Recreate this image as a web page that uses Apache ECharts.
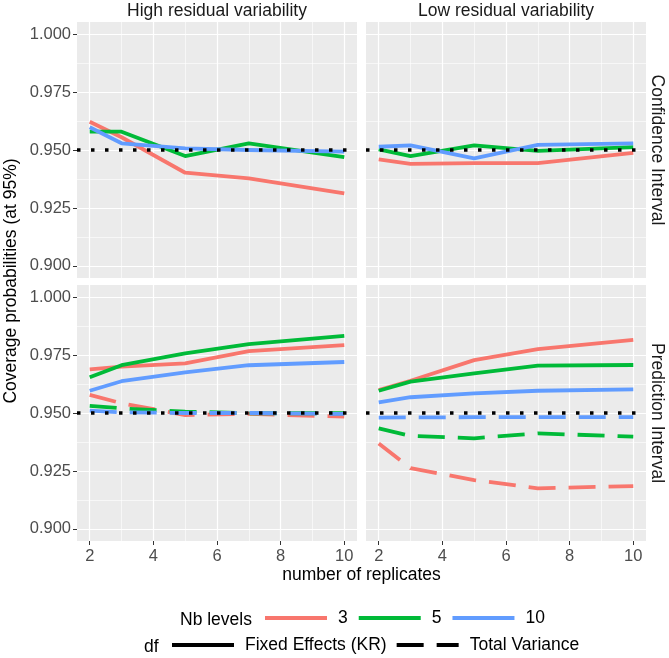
<!DOCTYPE html>
<html lang="en">
<head>
  <meta charset="UTF-8">
  <title>Coverage probabilities</title>
  <script src="https://cdn.jsdelivr.net/npm/echarts@6/dist/echarts.min.js"></script>
  <style>
    body { margin: 0; background: #fff; }
    #main { width: 669px; height: 658px; }
  </style>
</head>
<body>
  <div id="main"></div>
  <script>
    // number of replicates (x positions of the points)
    var replicates = [2, 3, 5, 7, 10]
    var xTicks = [2, 4, 6, 8, 10]
    var xMinor = [3, 5, 7, 9]
    var yTicks = [0.900, 0.925, 0.950, 0.975, 1.000]
    var yMinor = [0.9125, 0.9375, 0.9625, 0.9875]
    var nominal = 0.95

    var levels = ['3', '5', '10']
    var dfNames = ['Fixed Effects (KR)', 'Total Variance']
    var colors = ['#F8766D', '#00BA38', '#619CFF']

    // Confidence interval, high residual variability
    var ciHigh3 = [0.9622, 0.9555, 0.9402, 0.9378, 0.9313]
    var ciHigh5 = [0.9579, 0.9579, 0.9474, 0.9529, 0.9469]
    var ciHigh10 = [0.9598, 0.9529, 0.9507, 0.9500, 0.9493]
    // Confidence interval, low residual variability
    var ciLow3 = [0.9460, 0.9440, 0.9443, 0.9443, 0.9488]
    var ciLow5 = [0.9503, 0.9474, 0.9520, 0.9496, 0.9512]
    var ciLow10 = [0.9514, 0.9520, 0.9464, 0.9522, 0.9529]
    // Prediction interval, high residual variability
    var piHighKR3 = [0.9688, 0.9700, 0.9714, 0.9767, 0.9793]
    var piHighKR5 = [0.9654, 0.9706, 0.9757, 0.9797, 0.9833]
    var piHighKR10 = [0.9596, 0.9637, 0.9675, 0.9706, 0.9720]
    var piHighTV3 = [0.9578, 0.9542, 0.9491, 0.9496, 0.9484]
    var piHighTV5 = [0.9531, 0.9520, 0.9506, 0.9499, 0.9499]
    var piHighTV10 = [0.9510, 0.9503, 0.9500, 0.9500, 0.9496]
    // Prediction interval, low residual variability
    var piLowKR3 = [0.9599, 0.9639, 0.9728, 0.9775, 0.9815]
    var piLowKR5 = [0.9596, 0.9635, 0.9671, 0.9704, 0.9707]
    var piLowKR10 = [0.9546, 0.9568, 0.9585, 0.9596, 0.9602]
    var piLowTV3 = [0.9369, 0.9262, 0.9211, 0.9175, 0.9185]
    var piLowTV5 = [0.9434, 0.9401, 0.9391, 0.9412, 0.9398]
    var piLowTV10 = [0.9480, 0.9481, 0.9482, 0.9482, 0.9482]

    var colTitles = ['High residual variability', 'Low residual variability']
    var rowTitles = ['Confidence Interval', 'Prediction Interval']

    var FONT = 'Liberation Sans, Arial, sans-serif'
    var panels = [
      { left: 77, top: 22, solid: [ciHigh3, ciHigh5, ciHigh10], dashed: null },
      { left: 366, top: 22, solid: [ciLow3, ciLow5, ciLow10], dashed: null },
      { left: 77, top: 285, solid: [piHighKR3, piHighKR5, piHighKR10], dashed: [piHighTV3, piHighTV5, piHighTV10] },
      { left: 366, top: 285, solid: [piLowKR3, piLowKR5, piLowKR10], dashed: [piLowTV3, piLowTV5, piLowTV10] }
    ]
    var PW = 280, PH = 256

    function pts(ys) {
      return replicates.map(function (x, i) { return [x, ys[i]] })
    }

    var grid = [], xAxis = [], yAxis = [], series = []
    panels.forEach(function (p, i) {
      grid.push({ left: p.left, top: p.top, width: PW, height: PH, show: true,
        backgroundColor: '#EBEBEB', borderWidth: 0 })
      var bottom = i >= 2, leftCol = i % 2 === 0
      // major x
      xAxis.push({
        type: 'value', gridIndex: i, min: 1.6, max: 10.4,
        axisLine: { show: false, onZero: false },
        axisTick: { show: bottom, customValues: xTicks, length: 4, lineStyle: { color: '#333', width: 1 } },
        axisLabel: { show: bottom, customValues: xTicks, margin: 7, color: '#4D4D4D', fontSize: 16.5, fontFamily: FONT },
        splitLine: { show: true, lineStyle: { color: '#fff', width: 1.2 } }
      })
      // minor x
      xAxis.push({
        type: 'value', gridIndex: i, min: 1.6, max: 10.4,
        axisLine: { show: false, onZero: false },
        axisTick: { show: false, customValues: xMinor },
        axisLabel: { show: false, customValues: xMinor },
        splitLine: { show: true, lineStyle: { color: '#fff', width: 0.6 } }
      })
      yAxis.push({
        type: 'value', gridIndex: i, min: 0.8948, max: 1.0052,
        axisLine: { show: false, onZero: false },
        axisTick: { show: leftCol, customValues: yTicks, length: 4, lineStyle: { color: '#333', width: 1 } },
        axisLabel: { show: leftCol, customValues: yTicks, margin: 6, color: '#4D4D4D', fontSize: 16.5, fontFamily: FONT,
          formatter: function (v) { return v.toFixed(3) } },
        splitLine: { show: true, lineStyle: { color: '#fff', width: 1.2 } }
      })
      yAxis.push({
        type: 'value', gridIndex: i, min: 0.8948, max: 1.0052, position: 'left',
        axisLine: { show: false, onZero: false },
        axisTick: { show: false, customValues: yMinor },
        axisLabel: { show: false, customValues: yMinor },
        splitLine: { show: true, lineStyle: { color: '#fff', width: 0.6 } }
      })

      levels.forEach(function (lv, k) {
        series.push({
          name: lv, type: 'line', xAxisIndex: i * 2, yAxisIndex: i * 2,
          data: pts(p.solid[k]), symbol: 'none', color: colors[k],
          lineStyle: { width: 3.8, color: colors[k], cap: 'butt', join: 'round' }
        })
        if (p.dashed) {
          series.push({
            name: lv, type: 'line', xAxisIndex: i * 2, yAxisIndex: i * 2,
            data: pts(p.dashed[k]), symbol: 'none', color: colors[k],
            lineStyle: { width: 3.8, color: colors[k], type: [27, 13], cap: 'butt', join: 'round' }
          })
        }
      })
      // dotted nominal level
      series.push({
        type: 'line', xAxisIndex: i * 2, yAxisIndex: i * 2, data: [],
        markLine: {
          silent: true, symbol: 'none', label: { show: false },
          lineStyle: { color: '#000', width: 3.5, type: [3.5, 10.5], cap: 'butt' },
          emphasis: { disabled: true },
          data: [{ yAxis: nominal }]
        }
      })
    })

    // legend-only series for the df key
    dfNames.forEach(function (n) {
      series.push({ name: n, type: 'line', data: [], xAxisIndex: 0, yAxisIndex: 0, color: '#000', symbol: 'none' })
    })

    var txt = function (text, x, y, opt) {
      opt = opt || {}
      return {
        type: 'text', x: x, y: y, rotation: opt.rotation || 0,
        style: { text: text, align: opt.align || 'center', verticalAlign: 'middle',
          font: (opt.size || 17.5) + 'px ' + FONT, fill: opt.color || '#000' }
      }
    }

    var legendText = { fontSize: 17.5, fontFamily: FONT, color: '#000', padding: [0, 0, 0, 6] }
    var myChart = echarts.init(document.getElementById('main'))
    myChart.setOption({
      animation: false,
      grid: grid,
      xAxis: xAxis,
      yAxis: yAxis,
      series: series,
      legend: [
        {
          data: levels, left: 265, top: 609, padding: 0, icon: 'rect', itemWidth: 62, itemHeight: 4, itemGap: 11,
          selectedMode: false, itemStyle: { borderWidth: 0 }, textStyle: legendText
        },
        {
          data: [
            { name: dfNames[0], icon: 'rect' },
            { name: dfNames[1], icon: 'path://M0,0h27v4h-27z M40,0h22v4h-22z' }
          ],
          left: 172, top: 636, padding: 0, itemWidth: 62, itemHeight: 4, itemGap: 10,
          selectedMode: false, itemStyle: { borderWidth: 0 }, textStyle: legendText
        }
      ],
      graphic: [
        txt(colTitles[0], 77 + PW / 2, 11, { color: '#1A1A1A' }),
        txt(colTitles[1], 366 + PW / 2, 11, { color: '#1A1A1A' }),
        txt(rowTitles[0], 657, 22 + PH / 2, { color: '#1A1A1A', rotation: -Math.PI / 2 }),
        txt(rowTitles[1], 657, 285 + PH / 2, { color: '#1A1A1A', rotation: -Math.PI / 2 }),
        txt('Coverage probabilities (at 95%)', 11, 281, { rotation: Math.PI / 2 }),
        txt('number of replicates', 361.5, 575),
        txt('Nb levels', 180, 620, { align: 'left' }),
        txt('df', 144, 647, { align: 'left' })
      ]
    })
  </script>
</body>
</html>
